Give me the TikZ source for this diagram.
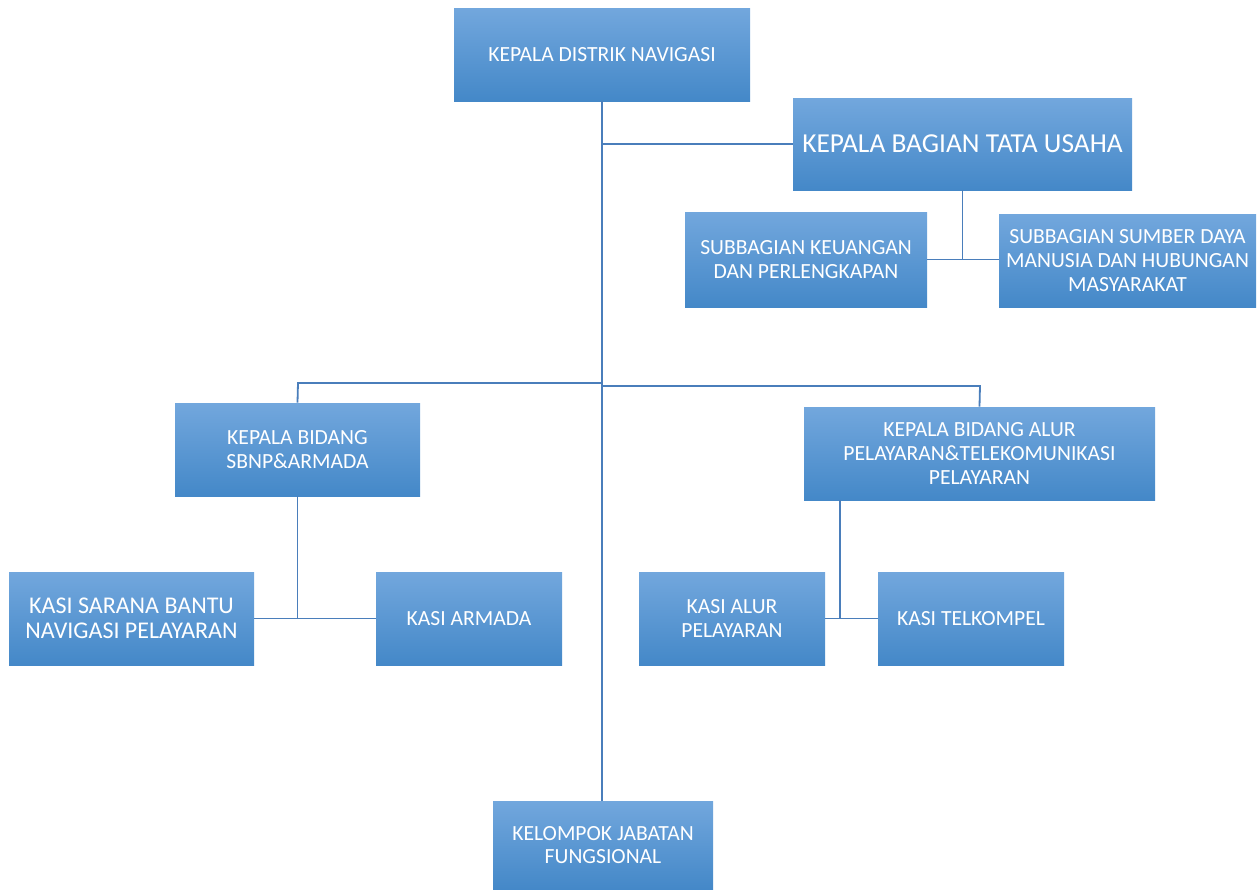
\documentclass[tikz,border=0pt]{standalone}
\usepackage{fontspec}
\setmainfont{Carlito}
\usepackage{xcolor}
\usepackage{tikz}

\definecolor{boxtop}{HTML}{72A7DD}
\definecolor{boxmid}{HTML}{5B9BD8}
\definecolor{boxbot}{HTML}{4488C8}
\definecolor{linkblue}{HTML}{4A7EBB}

\begin{document}
\begin{tikzpicture}[x=0.5pt, y=-0.5pt,
    box/.style={rectangle, top color=boxtop, middle color=boxmid, bottom color=boxbot,
        text=white, align=center, inner sep=2pt, font=\fontsize{10.8}{11.8}\selectfont},
    bigbox/.style={box, font=\fontsize{13.7}{15}\selectfont},
    midbox/.style={box, font=\fontsize{12}{12.5}\selectfont},
    link/.style={draw=linkblue, line width=0.9pt}]
    \useasboundingbox (0,0) rectangle (1260,890);
    % boxes
    \node[box, minimum width=148pt, minimum height=46.5pt] (dn) at (602,54.5) {KEPALA DISTRIK NAVIGASI};
    \node[bigbox, minimum width=169.5pt, minimum height=46pt] (tu) at (962.5,144) {KEPALA BAGIAN TATA USAHA};
    \node[box, minimum width=121pt, minimum height=47.5pt] (kk) at (806,259.5) {SUBBAGIAN KEUANGAN\\DAN PERLENGKAPAN};
    \node[box, minimum width=128.5pt, minimum height=46.5pt] (sd) at (1127.5,260.5) {SUBBAGIAN SUMBER DAYA\\MANUSIA DAN HUBUNGAN\\MASYARAKAT};
    \node[box, minimum width=122.5pt, minimum height=46.5pt] (bs) at (297.5,449.5) {KEPALA BIDANG\\SBNP\&ARMADA};
    \node[box, minimum width=175.5pt, minimum height=46.5pt] (ba) at (979.5,453.5) {KEPALA BIDANG ALUR\\PELAYARAN\&TELEKOMUNIKASI\\PELAYARAN};
    \node[midbox, minimum width=122.5pt, minimum height=46.5pt] (ks) at (131.5,618.5) {KASI SARANA BANTU\\NAVIGASI PELAYARAN};
    \node[box, minimum width=93pt, minimum height=46.5pt] (ka) at (469,618.5) {KASI ARMADA};
    \node[box, minimum width=93pt, minimum height=46.5pt] (kl) at (732,618.5) {KASI ALUR\\PELAYARAN};
    \node[box, minimum width=93pt, minimum height=46.5pt] (kt) at (971,618.5) {KASI TELKOMPEL};
    \node[box, minimum width=110pt, minimum height=44pt] (kf) at (603,845) {KELOMPOK JABATAN\\FUNGSIONAL};
    % joints
    \coordinate (bl) at (298,383);
    \coordinate (br) at (980,386);
    \coordinate (bb) at (840,618);
    % lines
    \draw[link] (dn.south) -- (dn.south |- kf.north);
    \draw[link] (dn.south |- tu.west) -- (tu.west);
    \draw[link] (tu.south) -- (tu.south |- kk.east);
    \draw[link] (kk.east) -- (kk.east -| sd.west);
    \draw[link] (dn.south |- bl) -- (bl) -- (bs.north);
    \draw[link] (dn.south |- br) -- (br) -- (ba.north);
    \draw[link] (bs.south) -- (bs.south |- ks.east);
    \draw[link] (ks.east) -- (ka.west);
    \draw[link] (ba.south -| bb) -- (bb);
    \draw[link] (kl.east) -- (kt.west);
\end{tikzpicture}
\end{document}
